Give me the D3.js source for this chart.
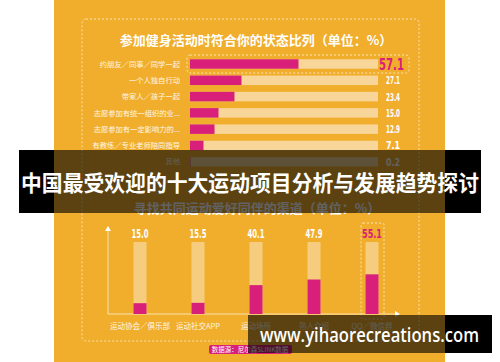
<!DOCTYPE html>
<meta charset="utf-8">
<style>
  body { margin: 0; background: #fff; }
  svg { display: block; font-family: "Noto Sans CJK SC", sans-serif; }
</style>
<body>
<script src="https://cdn.jsdelivr.net/npm/d3@7/dist/d3.min.js"></script>
<script>
// top chart: state while doing sports
var stateLabels = ["约朋友／同事／同学一起", "一个人独自行动", "带家人／孩子一起", "志愿参加有统一组织的业...", "志愿参加有一定影响力的...", "有教练／专业老师陪同指导", "其他"];
var stateValues = [57.1, 27.1, 23.4, 15.0, 12.9, 7.1, 0.2];
// bottom chart: channels for finding partners
var channelLabels = ["运动协会／俱乐部", "运动社交APP", "运动场所", "熟人介绍", "QQ／微信群"];
var channelValues = [15.0, 15.5, 40.1, 47.9, 55.1];

var W = 500, H = 362;
var orange = "#f0ae2c", pink = "#d8207a", peach = "#f8d598", dash = "#fbe3b0";
var numFont = '"DejaVu Sans", sans-serif';

var svg = d3.select("body").append("svg").attr("width", W).attr("height", H);

// orange poster
svg.append("rect").attr("x", 54).attr("y", 0).attr("width", 391).attr("height", H).attr("fill", orange);
svg.append("rect").attr("x", 82).attr("y", 19).attr("width", 337).attr("height", 322).attr("rx", 4)
  .attr("fill", "none").attr("stroke", dash).attr("stroke-width", 1).attr("stroke-dasharray", "2,2");

svg.append("text").attr("x", 256).attr("y", 45).attr("text-anchor", "middle")
  .attr("fill", "#fff").attr("font-size", 13).attr("font-weight", "bold")
  .text("参加健身活动时符合你的状态比列（单位：%）");

// horizontal bars
var x = d3.scaleLinear().domain([0, 100]).range([190, 380]);
var y = d3.scaleBand().domain(stateLabels).range([59.25, 166.5]).paddingInner(0.417);

svg.append("rect").attr("x", 187).attr("y", 55).attr("width", 222).attr("height", 18).attr("rx", 3)
  .attr("fill", "none").attr("stroke", dash).attr("stroke-dasharray", "2,2");

var rows = svg.selectAll("g.row").data(stateLabels).enter().append("g").attr("class", "row");
rows.append("rect").attr("x", x(0)).attr("y", d => y(d)).attr("width", 188).attr("height", y.bandwidth()).attr("fill", peach);
rows.append("rect").attr("x", x(0)).attr("y", d => y(d)).attr("width", (d, i) => x(stateValues[i]) - x(0))
  .attr("height", y.bandwidth()).attr("fill", pink);
rows.append("text").attr("x", 180).attr("y", d => y(d) + y.bandwidth() / 2 + 2.7).attr("text-anchor", "end")
  .attr("fill", "#fff6e6").attr("font-size", 7.3).text(d => d);
rows.append("text").attr("x", (d, i) => i == 0 ? 379 : 386).attr("y", (d, i) => y(d) + y.bandwidth() / 2 + (i == 0 ? 6 : 4))
  .attr("font-family", numFont).attr("font-weight", "bold")
  .attr("font-size", (d, i) => i == 0 ? 16 : 10.5)
  .attr("textLength", (d, i) => i == 0 ? 25 : 14).attr("lengthAdjust", "spacingAndGlyphs")
  .attr("fill", (d, i) => i == 0 ? pink : "#fff")
  .text((d, i) => stateValues[i].toFixed(1));

// subtitle
svg.append("text").attr("x", 257).attr("y", 213).attr("text-anchor", "middle")
  .attr("fill", "#fff").attr("font-size", 13).attr("font-weight", "bold")
  .text("寻找共同运动爱好同伴的渠道（单位：%）");

// vertical bars
var cx = d3.scalePoint().domain(channelLabels).range([140, 372]);
var vy = d3.scaleLinear().domain([0, 100]).range([314, 242]);
var bw = 13;

svg.append("path").attr("d", "M108,314V229M108,314H397").attr("stroke", dash).attr("stroke-width", 1).attr("fill", "none");
svg.append("path").attr("d", "M105,231L108,226L111,231Z").attr("fill", "#fff");
svg.append("path").attr("d", "M395,311L400,314L395,317Z").attr("fill", "#fff");

svg.append("rect").attr("x", 361).attr("y", 223).attr("width", 23).attr("height", 96).attr("rx", 2)
  .attr("fill", "none").attr("stroke", dash).attr("stroke-dasharray", "2,2");

var cols = svg.selectAll("g.col").data(channelLabels).enter().append("g").attr("class", "col");
cols.append("rect").attr("x", d => cx(d) - bw / 2).attr("y", vy(100)).attr("width", bw).attr("height", vy(0) - vy(100)).attr("fill", "#f6cd7f");
cols.append("rect").attr("x", d => cx(d) - bw / 2).attr("y", (d, i) => vy(channelValues[i]))
  .attr("width", bw).attr("height", (d, i) => vy(0) - vy(channelValues[i])).attr("fill", pink);
cols.append("text").attr("x", (d, i) => cx(d) - (i == 4 ? 10 : 8.5)).attr("y", 238)
  .attr("font-family", numFont).attr("font-weight", "bold").attr("font-size", 11.5)
  .attr("textLength", (d, i) => i == 4 ? 20 : 17).attr("lengthAdjust", "spacingAndGlyphs")
  .attr("fill", (d, i) => i == 4 ? pink : "#fff").text((d, i) => channelValues[i].toFixed(1));
cols.append("text").attr("x", d => cx(d)).attr("y", 329).attr("text-anchor", "middle")
  .attr("fill", "#fff6e6").attr("font-size", 7.5).text(d => d);

// source tag
svg.append("rect").attr("x", 209).attr("y", 345).attr("width", 83).attr("height", 9).attr("rx", 2).attr("fill", pink);
svg.append("text").attr("x", 250).attr("y", 352).attr("text-anchor", "middle").attr("fill", "#fff")
  .attr("font-size", 6.5).text("数据源：尼尔森SLINK数据");

// caption band
svg.append("rect").attr("x", 19).attr("y", 150).attr("width", 462).attr("height", 63).attr("fill", "rgba(0,0,0,0.62)");
svg.append("rect").attr("x", 19).attr("y", 150).attr("width", 35).attr("height", 63).attr("fill", "#000");
svg.append("rect").attr("x", 445).attr("y", 150).attr("width", 36).attr("height", 63).attr("fill", "#000");
svg.append("text").attr("x", 250).attr("y", 191).attr("text-anchor", "middle").attr("fill", "#fff")
  .attr("font-size", 21.5).attr("font-weight", "bold").attr("textLength", 458).attr("lengthAdjust", "spacingAndGlyphs")
  .text("中国最受欢迎的十大运动项目分析与发展趋势探讨");

// watermark band
svg.append("rect").attr("x", 248).attr("y", 315).attr("width", 197).attr("height", 38).attr("fill", "rgba(0,0,0,0.62)");
svg.append("rect").attr("x", 445).attr("y", 315).attr("width", 47).attr("height", 38).attr("fill", "#000");
svg.append("text").attr("x", 260).attr("y", 342).attr("fill", "#fff").attr("font-family", '"Open Sans", sans-serif')
  .attr("font-size", 19).attr("font-weight", 600).attr("textLength", 219).attr("lengthAdjust", "spacingAndGlyphs")
  .text("www.yihaorecreations.com");
</script>
</body>
